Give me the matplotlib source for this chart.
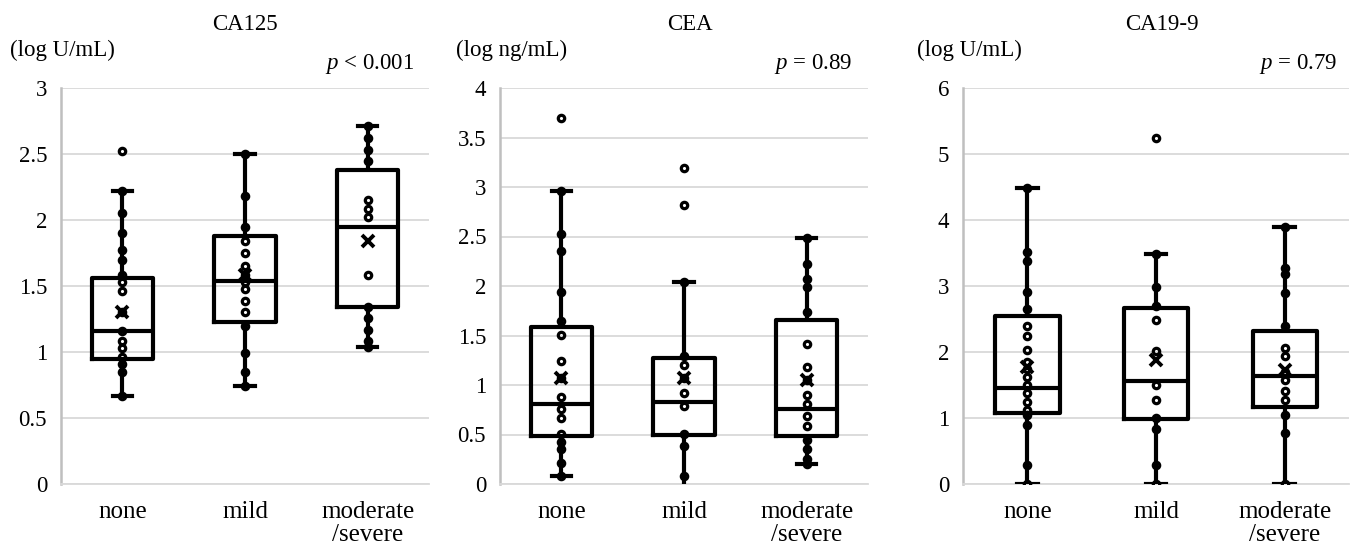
import matplotlib
matplotlib.use("Agg")
import matplotlib.pyplot as plt

plt.rcParams['font.family'] = ['Liberation Serif', 'DejaVu Serif']
plt.rcParams['mathtext.fontset'] = 'custom'
plt.rcParams['mathtext.rm'] = 'Liberation Serif'
plt.rcParams['mathtext.it'] = 'Liberation Serif:italic'

categories = ["none", "mild", "moderate\n/severe"]

# ---------------- CA125 ----------------
ca125_points = [
    [2.52, 2.22, 2.05, 1.90, 1.77, 1.70, 1.58, 1.53, 1.46, 1.30, 1.16, 1.08, 1.03, 0.96, 0.91, 0.85, 0.665],
    [2.50, 2.18, 1.95, 1.84, 1.75, 1.65, 1.58, 1.53, 1.48, 1.39, 1.30, 1.20, 0.99, 0.845, 0.745],
    [2.71, 2.62, 2.53, 2.45, 2.15, 2.08, 2.02, 1.58, 1.34, 1.26, 1.17, 1.08, 1.035],
]
ca125_q1 = [0.95, 1.23, 1.34]
ca125_median = [1.16, 1.54, 1.95]
ca125_q3 = [1.56, 1.88, 2.38]
ca125_whislo = [0.665, 0.745, 1.035]
ca125_whishi = [2.22, 2.50, 2.71]
ca125_mean = [1.30, 1.58, 1.84]

# ---------------- CEA ----------------
cea_points = [
    [3.70, 2.96, 2.53, 2.35, 1.94, 1.65, 1.51, 1.24, 1.07, 0.88, 0.76, 0.67, 0.51, 0.42, 0.35, 0.21, 0.08],
    [3.19, 2.82, 2.04, 1.29, 1.20, 1.07, 0.92, 0.79, 0.51, 0.38, 0.08],
    [2.48, 2.22, 2.07, 1.99, 1.74, 1.41, 1.18, 1.05, 0.90, 0.81, 0.69, 0.59, 0.44, 0.35, 0.25, 0.205],
]
cea_q1 = [0.48, 0.50, 0.48]
cea_median = [0.81, 0.83, 0.76]
cea_q3 = [1.59, 1.27, 1.66]
cea_whislo = [0.08, -0.08, 0.205]
cea_whishi = [2.96, 2.04, 2.48]
cea_mean = [1.07, 1.07, 1.05]

# ---------------- CA19-9 ----------------
ca199_points = [
    [4.48, 3.51, 3.38, 2.91, 2.65, 2.40, 2.24, 2.03, 1.85, 1.74, 1.62, 1.50, 1.38, 1.25, 1.12, 1.04, 0.90, 0.29, 0.0],
    [5.25, 3.49, 2.98, 2.69, 2.48, 2.02, 1.50, 1.27, 1.00, 0.83, 0.29, 0.0],
    [3.90, 3.28, 3.18, 2.89, 2.40, 2.06, 1.94, 1.70, 1.57, 1.41, 1.28, 1.04, 0.78, 0.0],
]
ca199_q1 = [1.07, 0.99, 1.16]
ca199_median = [1.46, 1.56, 1.64]
ca199_q3 = [2.54, 2.66, 2.32]
ca199_whislo = [0.0, 0.0, 0.0]
ca199_whishi = [4.48, 3.49, 3.90]
ca199_mean = [1.78, 1.88, 1.73]

titles = ["CA125", "CEA", "CA19-9"]
units = ["(log U/mL)", "(log ng/mL)", "(log U/mL)"]
pvals = ["$p$ < 0.001", "$p$ = 0.89", "$p$ = 0.79"]
ymaxs = [3, 4, 6]
yticks = [[0, 0.5, 1, 1.5, 2, 2.5, 3],
          [0, 0.5, 1, 1.5, 2, 2.5, 3, 3.5, 4],
          [0, 1, 2, 3, 4, 5, 6]]
yticklabels = [["0", "0.5", "1", "1.5", "2", "2.5", "3"],
               ["0", "0.5", "1", "1.5", "2", "2.5", "3", "3.5", "4"],
               ["0", "1", "2", "3", "4", "5", "6"]]

W, H = 1354, 545
fig = plt.figure(figsize=(W / 100, H / 100), dpi=100)

# axes rectangles in pixels: left, right, top, bottom
rects = [(61, 429, 88, 484), (500, 868, 88, 484), (963, 1349, 88, 484)]
title_x = [245, 690, 1162]
unit_x = [10, 456, 917]
p_x = [414, 852, 1337]

panels = [
    (ca125_points, ca125_q1, ca125_median, ca125_q3, ca125_whislo, ca125_whishi, ca125_mean),
    (cea_points, cea_q1, cea_median, cea_q3, cea_whislo, cea_whishi, cea_mean),
    (ca199_points, ca199_q1, ca199_median, ca199_q3, ca199_whislo, ca199_whishi, ca199_mean),
]

lw = 3.0
grid_color = "#d9d9d9"
for i, (pts, q1, med, q3, wlo, whi, mean) in enumerate(panels):
    l, r, t, b = rects[i]
    ax = fig.add_axes([l / W, 1 - b / H, (r - l) / W, (b - t) / H])
    stats = []
    for j in range(3):
        stats.append(dict(med=med[j], q1=q1[j], q3=q3[j], whislo=wlo[j], whishi=whi[j],
                          mean=mean[j], fliers=[], label=categories[j]))
    positions = [0, 1, 2]
    ax.bxp(stats, positions=positions, widths=0.5, showmeans=True, showfliers=False,
           boxprops=dict(color="black", linewidth=lw),
           whiskerprops=dict(color="black", linewidth=lw, solid_capstyle="butt"),
           capprops=dict(color="black", linewidth=lw),
           medianprops=dict(color="black", linewidth=lw),
           meanprops=dict(marker="x", markersize=8.5, markeredgewidth=2.8,
                          markeredgecolor="black", markerfacecolor="black"),
           capwidths=0.16, zorder=4)
    for j in range(3):
        ax.plot([positions[j]] * len(pts[j]), pts[j], linestyle="none", marker="o",
                markersize=4.6, markeredgewidth=2.3, markeredgecolor="black",
                markerfacecolor="none", zorder=3)
    ax.set_xlim(-0.5, 2.5)
    ax.set_ylim(0, ymaxs[i])
    ax.set_yticks(yticks[i])
    ax.set_yticklabels(yticklabels[i], fontsize=16.5)
    ax.set_xticks(positions)
    ax.set_xticklabels(categories, fontsize=18, linespacing=1.1, va="top")
    ax.tick_params(axis="both", length=0)
    ax.tick_params(axis="x", pad=12)
    ax.tick_params(axis="y", pad=10)
    ax.yaxis.grid(True, color=grid_color, linewidth=1.3)
    ax.set_axisbelow(True)
    for s in ["top", "right"]:
        ax.spines[s].set_visible(False)
    ax.spines["left"].set_color("#bfbfbf")
    ax.spines["left"].set_linewidth(1.8)
    ax.spines["bottom"].set_color(grid_color)
    ax.spines["bottom"].set_linewidth(1.3)

    fig.text(title_x[i] / W, 1 - 24 / H, titles[i], ha="center", va="center", fontsize=16.5)
    fig.text(unit_x[i] / W, 1 - 50 / H, units[i], ha="left", va="center", fontsize=16.5)
    fig.text(p_x[i] / W, 1 - 64 / H, pvals[i], ha="right", va="center", fontsize=16.5)

fig.savefig("out.png", dpi=100, facecolor="white")
